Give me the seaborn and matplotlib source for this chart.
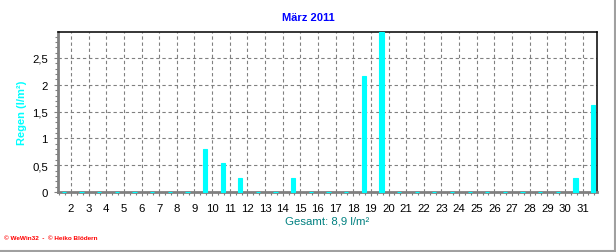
import numpy as np
import pandas as pd
import matplotlib
matplotlib.use("Agg")
import matplotlib.pyplot as plt
from matplotlib.ticker import FixedLocator
from matplotlib.lines import Line2D
import seaborn as sns

# ---- data ----
days = list(range(1, 32))
rain = [0, 0, 0, 0, 0, 0, 0, 0, 0.8, 0.55, 0.26, 0, 0, 0.26, 0, 0, 0,
        2.16, 2.98, 0, 0, 0, 0, 0, 0, 0, 0, 0, 0, 0.26, 1.62]
tick_days = list(range(2, 32))
ytick_vals = [0, 0.5, 1, 1.5, 2, 2.5]
ytick_labels = ["0", "0,5", "1", "1,5", "2", "2,5"]
title = "März 2011"
ylabel = "Regen (l/m²)"
xlabel = "Gesamt: 8,9 l/m²"
footer = "© WeWin32  -  © Heiko Blödern"

df = pd.DataFrame({"Tag": days, "Regen": rain})

sns.set_theme(style="white")
plt.rcParams["font.family"] = ["Liberation Sans", "DejaVu Sans"]

W, H = 616, 253
fig = plt.figure(figsize=(W / 100, H / 100), dpi=100)
fig.patch.set_facecolor("white")
L, R, T, B = 57.5, 597, 33, 193
ax = fig.add_axes([L / W, 1 - B / H, (R - L) / W, (B - T) / H])
ax.set_facecolor("white")

sns.barplot(data=df, x="Tag", y="Regen", native_scale=True, color="#00FFFF",
            saturation=1, width=0.24, edgecolor="#00FFFF", linewidth=0.8,
            ax=ax, zorder=3, errorbar=None)
for p in ax.patches:
    p.set_clip_on(False)

ax.set_xlim(0.635, 31.22)
ax.set_ylim(0, 2.985)

gray = "#808080"
xt = [k - 0.6 for k in tick_days]
ax.set_xticks(xt)
ax.set_xticklabels([str(k) for k in tick_days], fontsize=8.2, color="black")
ax.xaxis.set_minor_locator(FixedLocator(np.arange(0.4 - 1 / 3, 31.3, 1 / 3)))
ax.set_yticks(ytick_vals)
ax.set_yticklabels(ytick_labels, fontsize=8.2, color="black")
ax.yaxis.set_minor_locator(FixedLocator(np.arange(0.1, 2.99, 0.1)))

ax.tick_params(axis="both", which="major", length=3, width=0.8, color=gray,
               direction="out", pad=4, bottom=True, left=True)
ax.tick_params(axis="both", which="minor", length=2.5, width=0.8, color=gray,
               direction="out", bottom=True, left=True)
ax.tick_params(axis="x", which="major", pad=5)

ax.grid(True, which="major", color=gray, linestyle=(0, (3, 2.5)), linewidth=0.8, zorder=1)
ax.set_axisbelow(True)

for s in ["left", "bottom"]:
    ax.spines[s].set_color(gray)
    ax.spines[s].set_linewidth(2.0)
for s in ["top", "right"]:
    ax.spines[s].set_color("black")
    ax.spines[s].set_linewidth(1.1)

ax.set_ylabel(ylabel, color="#00FFFF", fontsize=8, fontweight="bold")
ax.yaxis.set_label_coords(-0.057, 0.5)
ax.set_xlabel(xlabel, color="#008080", fontsize=8.2)
ax.xaxis.set_label_coords(0.5, -0.145)

fig.text(0.5, 1 - 18 / H, title, color="#0000FF", fontsize=8, fontweight="bold",
         ha="center", va="center")
fig.text(4 / W, 1 - 239 / H, footer, color="#FF0000", fontsize=4.6, fontweight="bold",
         ha="left", va="center")

fig.add_artist(Line2D([0, 1], [1 - 251.5 / H] * 2, transform=fig.transFigure,
                      color="#A0A0A0", linewidth=1.5))
fig.add_artist(Line2D([614.5 / W] * 2, [1 - 251.5 / H, 1], transform=fig.transFigure,
                      color="#A0A0A0", linewidth=1.5))

fig.savefig("out.png", dpi=100, facecolor="white")
